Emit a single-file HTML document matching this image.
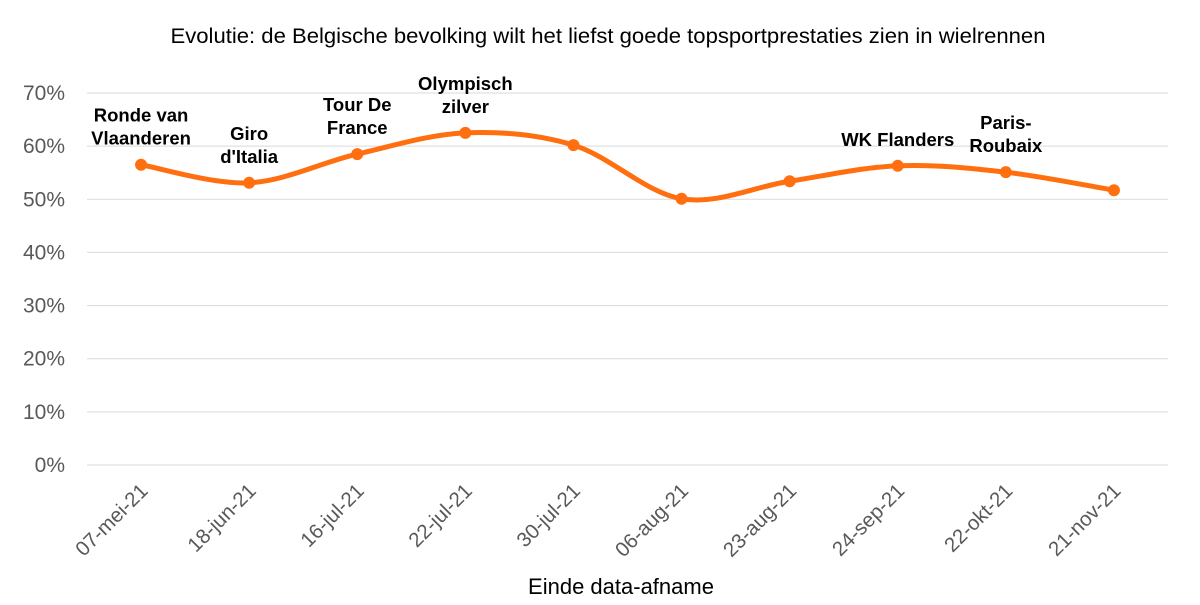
<!DOCTYPE html>
<html><head><meta charset="utf-8"><style>
html,body{margin:0;padding:0;background:#fff;}
svg{display:block;font-family:"Liberation Sans",sans-serif;}
</style></head><body>
<svg id="chart" width="1200" height="605" viewBox="0 0 1200 605">
<text x="608" y="43" text-anchor="middle" font-size="21" textLength="875" lengthAdjust="spacingAndGlyphs" fill="#000">Evolutie: de Belgische bevolking wilt het liefst goede topsportprestaties zien in wielrennen</text>
<g id="grid"></g><g id="yticks"></g><g id="xticks"></g><g id="series"></g><g id="annots"></g>
<text x="621" y="594" text-anchor="middle" font-size="22" fill="#000">Einde data-afname</text>
</svg>
<script>
const categories=["07-mei-21","18-jun-21","16-jul-21","22-jul-21","30-jul-21","06-aug-21","23-aug-21","24-sep-21","22-okt-21","21-nov-21"];
const values=[56.5,53.1,58.5,62.5,60.2,50.1,53.4,56.3,55.1,51.7];
const annotations=[["Ronde van","Vlaanderen"],["Giro","d'Italia"],["Tour De","France"],["Olympisch","zilver"],null,null,null,["WK Flanders"],["Paris-","Roubaix"],null];
const yTicks=[0,10,20,30,40,50,60,70];
const NS="http://www.w3.org/2000/svg";
const x0=87,x1=1168,y0=465,y1=93,yMax=70;
const xs=i=>x0+(x1-x0)*(i+0.5)/categories.length;
const ys=v=>y0-(y0-y1)*v/yMax;
function mk(t,a,p){const e=document.createElementNS(NS,t);for(const k in a)e.setAttribute(k,a[k]);p.appendChild(e);return e;}
const grid=document.getElementById('grid'),yt=document.getElementById('yticks'),xt=document.getElementById('xticks'),se=document.getElementById('series'),an=document.getElementById('annots');
yTicks.forEach(t=>{
 const l=mk('line',{x1:x0,x2:x1,y1:ys(t),y2:ys(t),stroke:'#d9d9d9','stroke-width':1},grid);
 
 
 const tx=mk('text',{x:65,y:ys(t)+7,'text-anchor':'end','font-size':21,fill:'#595959'},yt);
 tx.textContent=t+'%';
 
 
});
categories.forEach((c,i)=>{
 const x=xs(i);
 const tx=mk('text',{x:x+8,y:492,'text-anchor':'end','font-size':20.5,fill:'#595959',transform:`rotate(-45 ${x+8} 492)`},xt);
 tx.textContent=c;
 
 
});
const pts=values.map((v,i)=>[xs(i),ys(v)]);
let d=`M${pts[0][0]},${pts[0][1]}`;
for(let i=0;i<pts.length-1;i++){
 const p0=pts[Math.max(0,i-1)],p1=pts[i],p2=pts[i+1],p3=pts[Math.min(pts.length-1,i+2)];
 const t=6;
 d+=` C${p1[0]+(p2[0]-p0[0])/t},${p1[1]+(p2[1]-p0[1])/t} ${p2[0]-(p3[0]-p1[0])/t},${p2[1]-(p3[1]-p1[1])/t} ${p2[0]},${p2[1]}`;
}
const path=mk('path',{d:d,fill:'none',stroke:'#ff6f0f','stroke-width':5,'stroke-linecap':'round'},se);


pts.forEach((p,i)=>{
 const c=mk('circle',{cx:p[0],cy:p[1],r:6,fill:'#ff6f0f'},se);
 
 
 const a=annotations[i];
 if(a){
  const top=p[1]-16-23*a.length;
  a.forEach((ln,j)=>{
   const tx=mk('text',{x:p[0],y:top+23*(j+1)-4,'text-anchor':'middle','font-size':18.5,'font-weight':'bold',fill:'#000'},an);
   tx.textContent=ln;
   
   
  });
 }
});
</script>
</body></html>
